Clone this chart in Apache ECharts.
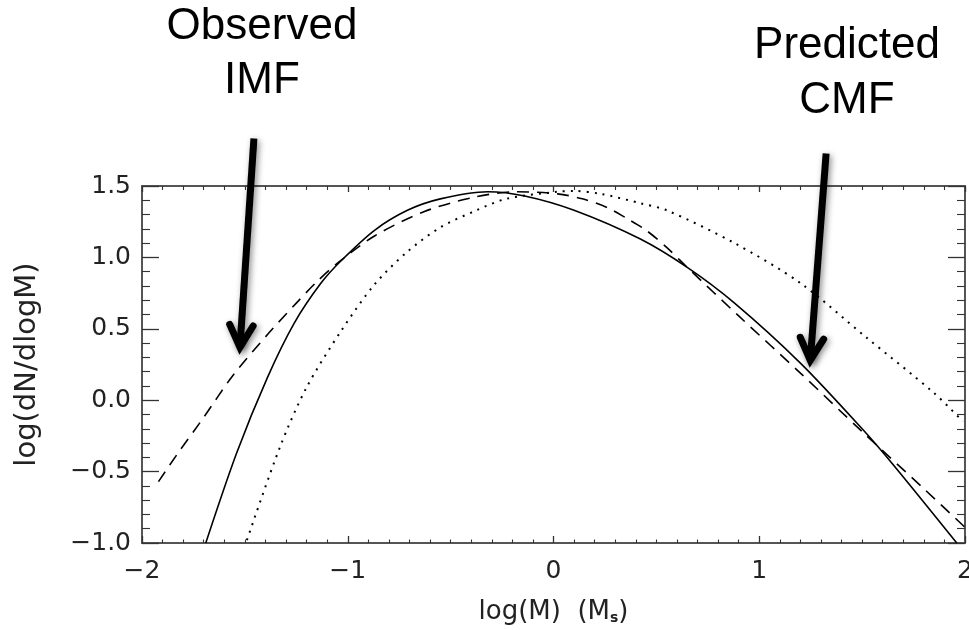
<!DOCTYPE html>
<html><head><meta charset="utf-8">
<script src="https://cdn.jsdelivr.net/npm/echarts@6/dist/echarts.min.js"></script>
<style>html,body{margin:0;padding:0;background:#fff}#c{width:969px;height:630px}</style>
</head><body><div id="c"></div>
<script>
// Solid curve (predicted CMF)
const solidX = [-1.69, -1.54, -1.39, -1.26, -1.13, -1.03, -0.87, -0.71, -0.55, -0.32, -0.14, 0.10, 0.42, 0.65, 0.88, 1.20, 1.50, 1.65, 1.96];
const solidY = [-1.00, -0.37, 0.16, 0.54, 0.82, 0.98, 1.19, 1.33, 1.41, 1.46, 1.43, 1.33, 1.13, 0.93, 0.68, 0.26, -0.20, -0.45, -1.00];
// Dashed curve (observed IMF)
const dashX = [-1.92, -1.82, -1.70, -1.56, -1.39, -1.25, -1.15, -1.05, -0.87, -0.63, -0.39, -0.18, 0.02, 0.14, 0.26, 0.36, 0.45, 0.55, 0.65, 0.90, 1.20, 1.50, 1.80, 2.00];
const dashY = [-0.57, -0.36, -0.12, 0.17, 0.46, 0.68, 0.83, 0.96, 1.15, 1.32, 1.42, 1.46, 1.445, 1.41, 1.35, 1.27, 1.19, 1.07, 0.93, 0.59, 0.19, -0.22, -0.62, -0.89];
// Dotted curve
const dotX = [-1.49, -1.33, -1.20, -1.03, -0.87, -0.71, -0.55, -0.39, -0.23, 0.02, 0.10, 0.23, 0.42, 0.55, 0.88, 1.20, 1.52, 1.85, 1.99];
const dotY = [-0.98, -0.33, 0.09, 0.49, 0.81, 1.04, 1.21, 1.32, 1.41, 1.46, 1.465, 1.445, 1.38, 1.33, 1.10, 0.82, 0.44, 0.05, -0.15];

// Axis ranges / ticks
const xRange = [-2, 2], xStep = 1;
const yRange = [-1, 1.5], yStep = 0.5;

// Annotations (data coordinates: tail -> tip)
const annoText = ['Observed\nIMF', 'Predicted\nCMF'];
const arrowTail = [[-1.456, 1.832], [1.325, 1.727]];
const arrowTip  = [[-1.524, 0.371], [1.248, 0.280]];

const pairs = (xs, ys) => xs.map((x, i) => [x, ys[i]]);
const minus = s => String(s).replace('-', '\u2212');
const FONT = 'DejaVu Sans';
const AX = '#555';

function xAxisCfg(pos, show, tl, mtl) {
  return {
    type: 'value', position: pos, min: xRange[0], max: xRange[1], interval: xStep,
    axisLine: { show: true, onZero: false, lineStyle: { color: AX, width: 2 } },
    axisTick: { show: true, inside: true, length: tl, lineStyle: { color: '#333', width: 1.3 } },
    minorTick: { show: true, splitNumber: 10, length: mtl, lineStyle: { color: '#333', width: 1.1 } },
    splitLine: { show: false }, minorSplitLine: { show: false },
    axisLabel: { show: show, fontFamily: FONT, fontSize: 25, color: '#222', margin: 16,
      formatter: v => minus(Math.round(v)) },
    name: show ? 'log(M)  (M{sub|s})' : '', nameLocation: 'middle', nameGap: 56,
    nameTextStyle: { fontFamily: FONT, fontSize: 26, color: '#222',
      rich: { sub: { fontFamily: FONT, fontSize: 14, fontWeight: 'bold', color: '#222', padding: [12, 0, 0, 0] } } }
  };
}
function yAxisCfg(pos, show) {
  return {
    type: 'value', position: pos, min: yRange[0], max: yRange[1], interval: yStep,
    axisLine: { show: true, onZero: false, lineStyle: { color: AX, width: 2 } },
    axisTick: { show: true, inside: true, length: 17, lineStyle: { color: '#333', width: 1.3 } },
    minorTick: { show: true, splitNumber: 5, length: 8, lineStyle: { color: '#333', width: 1.1 } },
    splitLine: { show: false }, minorSplitLine: { show: false },
    axisLabel: { show: show, fontFamily: FONT, fontSize: 25, color: '#222', margin: 11,
      formatter: v => minus(v.toFixed(1)) },
    name: show ? 'log(dN/dlogM)' : '', nameLocation: 'middle', nameGap: 100,
    nameTextStyle: { fontFamily: FONT, fontSize: 29, color: '#222' }
  };
}

const chart = echarts.init(document.getElementById('c'), null, { renderer: 'canvas' });
chart.setOption({
  animation: false,
  backgroundColor: '#fff',
  grid: { left: 142, right: 4, top: 186, bottom: 87, containLabel: false, outerBoundsMode: 'none' },
  xAxis: [xAxisCfg('bottom', true, 7, 3.5), xAxisCfg('top', false, 6, 4)],
  yAxis: [yAxisCfg('left', true), yAxisCfg('right', false)],
  series: [
    { type: 'line', data: pairs(solidX, solidY), showSymbol: false, smooth: 0.3, clip: true,
      lineStyle: { color: '#000', width: 1.6, type: 'solid' } },
    { type: 'line', data: pairs(dashX, dashY), showSymbol: false, smooth: 0.3, clip: true,
      lineStyle: { color: '#000', width: 1.6, type: [12, 8] } },
    { type: 'line', data: pairs(dotX, dotY), showSymbol: false, smooth: 0.3, clip: true,
      lineStyle: { color: '#000', width: 2, type: [2, 6] } }
  ]
});

// Annotation arrows and labels
const toPx = p => chart.convertToPixel({ gridIndex: 0 }, p);
const graphics = [];
const shadow = { shadowBlur: 6, shadowColor: 'rgba(0,0,0,0.45)', shadowOffsetX: 2, shadowOffsetY: 2 };
for (let i = 0; i < arrowTail.length; i++) {
  const a = toPx(arrowTail[i]), b = toPx(arrowTip[i]);
  const ang = Math.atan2(a[1] - b[1], a[0] - b[0]);
  const L = 25, sp = 28 * Math.PI / 180;
  const w1 = [b[0] + L * Math.cos(ang + sp), b[1] + L * Math.sin(ang + sp)];
  const w2 = [b[0] + L * Math.cos(ang - sp), b[1] + L * Math.sin(ang - sp)];
  graphics.push({ type: 'line', z: 100, shape: { x1: a[0], y1: a[1], x2: b[0], y2: b[1] },
    style: Object.assign({ stroke: '#000', lineWidth: 7, lineCap: 'butt' }, shadow) });
  graphics.push({ type: 'polyline', z: 100, shape: { points: [w1, b, w2] },
    style: Object.assign({ stroke: '#000', fill: null, lineWidth: 7, lineJoin: 'miter', lineCap: 'round' }, shadow) });
}
const textPos = [[262, 54, 54], [847, 73, 55]];
annoText.forEach((t, i) => {
  graphics.push({ type: 'text', z: 100, x: textPos[i][0], y: textPos[i][1],
    style: { text: t, fill: '#000', fontFamily: 'Liberation Sans', fontSize: 44,
      align: 'center', verticalAlign: 'middle', lineHeight: textPos[i][2] } });
});
chart.setOption({ graphic: graphics });
</script>
</body></html>
